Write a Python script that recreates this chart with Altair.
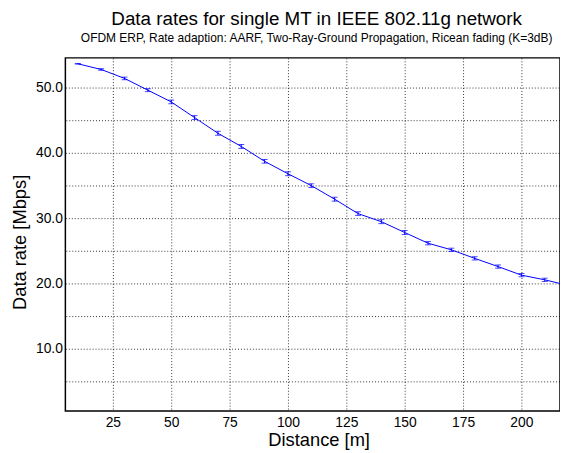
import altair as alt
import pandas as pd

distance = [10, 20, 30, 40, 50, 60, 70, 80, 90, 100, 110, 120, 130, 140, 150, 160, 170, 180, 190, 200, 210, 220]
rate = [53.64, 52.77, 51.4, 49.6, 47.8, 45.4, 43.0, 40.98, 38.7, 36.8, 34.98, 32.9, 30.7, 29.46, 27.8, 26.16, 25.15, 23.84, 22.58, 21.27, 20.55, 19.7]
err = [0.05, 0.12, 0.2, 0.22, 0.28, 0.3, 0.3, 0.3, 0.28, 0.3, 0.28, 0.3, 0.28, 0.3, 0.3, 0.25, 0.25, 0.25, 0.25, 0.25, 0.25, 0.25]

x_ticks = [25, 50, 75, 100, 125, 150, 175, 200]
y_ticks = [10, 20, 30, 40, 50]
y_minor = [5, 15, 25, 35, 45]

df = pd.DataFrame({"d": distance, "r": rate, "e": err})
df["lo"] = df["r"] - df["e"]
df["hi"] = df["r"] + df["e"]
dfe = df[df["d"] <= 210]
dminor = pd.DataFrame({"v": y_minor})

xs = alt.Scale(domain=[4.661, 216.53], nice=False, zero=False)
ys = alt.Scale(domain=[0.4545, 54.5454], nice=False, zero=False)

xaxis = alt.Axis(values=x_ticks, format="d", title="Distance [m]",
                 grid=True, ticks=False, domain=False, labelPadding=5, titlePadding=1,
                 titleX=256)
yaxis = alt.Axis(values=y_ticks, format=".1f",
                 title="Data rate [Mbps]", grid=True, ticks=False, domain=False,
                 labelPadding=3, titlePadding=6, titleY=186)

minor = alt.Chart(dminor).mark_rule(color="black", strokeWidth=1, strokeDash=[1, 2],
                                     opacity=0.8, yOffset=0.5).encode(
    y=alt.Y("v:Q", scale=ys)
)
line = alt.Chart(df).mark_line(color="#0000ff", strokeWidth=1, clip=True).encode(
    x=alt.X("d:Q", scale=xs, axis=xaxis),
    y=alt.Y("r:Q", scale=ys, axis=yaxis),
)
bars = alt.Chart(dfe).mark_rule(color="#0000ff", strokeWidth=1).encode(
    x="d:Q", y="lo:Q", y2="hi:Q"
)
cap_lo = alt.Chart(dfe).mark_tick(color="#0000ff", orient="horizontal", size=6, thickness=1).encode(
    x="d:Q", y="lo:Q"
)
cap_hi = alt.Chart(dfe).mark_tick(color="#0000ff", orient="horizontal", size=6, thickness=1).encode(
    x="d:Q", y="hi:Q"
)

chart = alt.layer(minor, line, bars, cap_lo, cap_hi).properties(
    width=500,
    height=357,
    title=alt.TitleParams(
        text="Data rates for single MT in IEEE 802.11g network",
        subtitle="OFDM ERP, Rate adaption: AARF, Two-Ray-Ground Propagation, Ricean fading (K=3dB)",
        anchor="middle", fontSize=19, fontWeight="normal", font="Liberation Sans", color="black",
        subtitleFontSize=12.1, subtitleFont="Liberation Sans", subtitleColor="black",
        subtitlePadding=3, offset=14, dx=4,
    ),
    autosize=alt.AutoSizeParams(type="none"),
    padding={"left": 58, "top": 48, "right": 0, "bottom": 40},
).configure_view(
    stroke="black", strokeWidth=1.5
).configure_axis(
    labelFont="Liberation Sans", titleFont="Liberation Sans",
    labelFontSize=14, titleFontSize=18.5, titleFontWeight="normal",
    labelColor="black", titleColor="black",
    gridColor="black", gridDash=[1, 2], gridWidth=1, gridOpacity=0.8,
)

chart.save("out.html", embed_options={"renderer": "svg", "actions": False})
